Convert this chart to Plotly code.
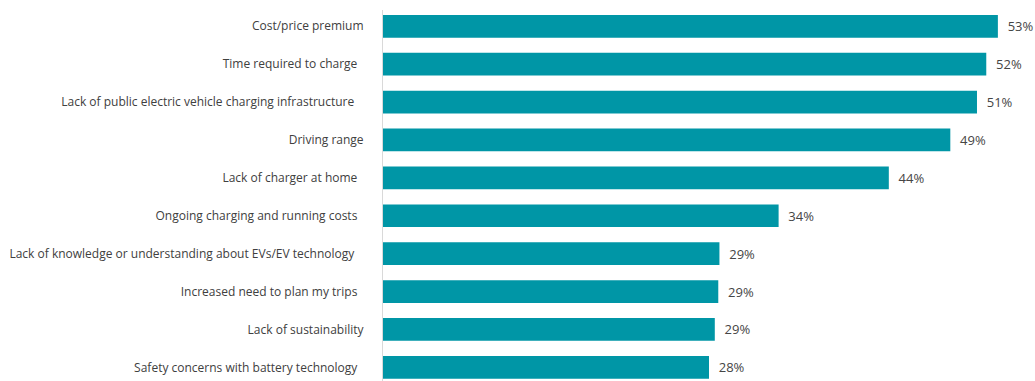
import plotly.graph_objects as go

categories = [
    "Cost/price premium",
    "Time required to charge",
    "Lack of public electric vehicle charging infrastructure",
    "Driving range",
    "Lack of charger at home",
    "Ongoing charging and running costs",
    "Lack of knowledge or understanding about EVs/EV technology",
    "Increased need to plan my trips",
    "Lack of sustainability",
    "Safety concerns with battery technology",
]
values = [53.0, 52.0, 51.2, 48.9, 43.6, 34.1, 29.0, 28.9, 28.6, 28.1]
label_pad = [0, 2, 3, 0, 2, 2, 3, 2, 0, 2]

positions = list(range(len(categories)))
ticktext = [c + "\u00a0" * p for c, p in zip(categories, label_pad)]

fig = go.Figure(
    go.Bar(
        x=values,
        y=positions,
        orientation="h",
        width=0.6,
        marker=dict(color="#0096A6", line=dict(width=0)),
        texttemplate="\u00a0\u00a0%{x:.0f}%",
        textposition="outside",
        textfont=dict(family="Open Sans", size=13, color="#454545"),
        cliponaxis=False,
        hoverinfo="skip",
    )
)

fig.update_layout(
    width=1035,
    height=381,
    margin=dict(l=383, r=0, t=10, b=0),
    paper_bgcolor="white",
    plot_bgcolor="white",
    showlegend=False,
    font=dict(family="Open Sans", size=12, color="#404040"),
    xaxis=dict(
        range=[0, 56.2],
        visible=False,
        showgrid=False,
        zeroline=False,
    ),
    yaxis=dict(
        range=[9.361, -0.430],
        tickvals=positions,
        ticktext=ticktext,
        showgrid=False,
        zeroline=False,
        showline=True,
        linecolor="#d9d9d9",
        linewidth=1,
        ticks="",
        ticklabelstandoff=16,
        tickfont=dict(family="Open Sans", size=12, color="#404040"),
        automargin=False,
    ),
)

fig.write_html(
    "out.html",
    config={"displayModeBar": False},
    post_script="document.body.style.margin='0';document.body.style.overflow='hidden';",
)
